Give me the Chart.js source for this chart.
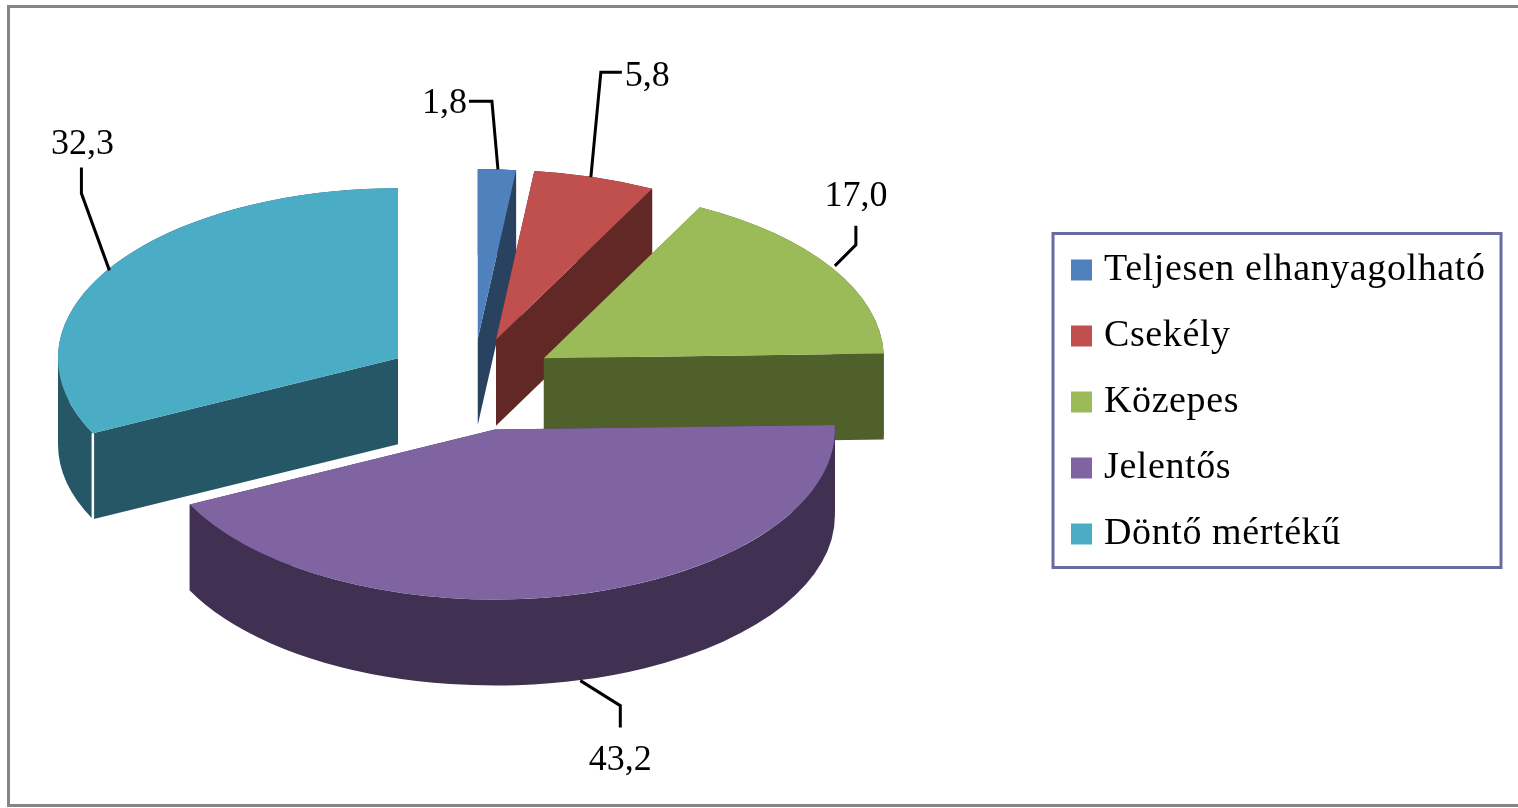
<!DOCTYPE html>
<html lang="hu">
<head>
<meta charset="utf-8">
<style>html,body{margin:0;padding:0;background:#fff;overflow:hidden}canvas{display:block}</style>
<script src="https://cdn.jsdelivr.net/npm/chart.js@4/dist/chart.umd.min.js"></script>
</head>
<body>
<canvas id="c" width="1518" height="808"></canvas>
<script>
const categories = ['Teljesen elhanyagolható', 'Csekély', 'Közepes', 'Jelentős', 'Döntő mértékű'];
const values = [1.8, 5.8, 17.0, 43.2, 32.3];
const valueLabels = ['1,8', '5,8', '17,0', '43,2', '32,3'];
const topColors = ['#4F81BD', '#C0504D', '#9BBB59', '#8064A2', '#4BACC6'];
const wallColors = ['#28425F', '#612826', '#4F602B', '#403152', '#265766'];
const explode = [84, 86, 86, 100, 86];
const nudgeX = [2, 0, 0, 0, 0];
const paintOrder = [4, 0, 1, 2, 3];
const wallDivider = [false, false, false, false, true];
// leader polyline relative to the slice's rim midpoint, then text anchor relative to its last point
const leaders = [
  {pts: [[1, 0], [-5, -68], [-28, -68]], text: [-2, 2, 'right']},
  {pts: [[-4, 0], [6, -105], [27, -105]], text: [3, 4, 'left']},
  {pts: [[3, -2], [24, -23], [24, -42]], text: [0, -29, 'center']},
  {pts: [[4, 0], [44, 25], [44, 47]], text: [0, 33, 'center']},
  {pts: [[0, 2], [-28, -75], [-28, -101]], text: [1, -23, 'center']}
];
const SQUASH = 0.5, DEPTH = 86, RADIUS = 340;
const SERIF = '"Liberation Serif","Times New Roman",serif';

function rimPoint(c, r, a) { return [c.x + Math.cos(a) * r, c.y + Math.sin(a) * r * SQUASH]; }

// break an angular range at the ellipse's left and right extremes so each wall piece is a simple shape
function wallPieces(a0, a1) {
  const cuts = [a0];
  for (let k = Math.ceil(a0 / Math.PI); k * Math.PI < a1; k++) {
    if (k * Math.PI > a0) cuts.push(k * Math.PI);
  }
  cuts.push(a1);
  return cuts.slice(1).map((end, i) => [cuts[i], end]);
}

const pie3d = {
  id: 'pie3d',
  afterLayout(chart) {
    const lg = chart.legend;
    const h = lg.height;
    lg.left = 1050; lg.right = chart.width; lg.top = 223; lg.bottom = 223 + h;
  },
  beforeDraw(chart) {
    const ctx = chart.ctx;
    ctx.save();
    ctx.fillStyle = '#fff';
    ctx.fillRect(0, 0, chart.width, chart.height);
    ctx.strokeStyle = '#868686';
    ctx.lineWidth = 3;
    ctx.strokeRect(8.5, 6.5, chart.width + 20, 799);
    ctx.strokeStyle = '#6A6C9F';
    ctx.strokeRect(1053, 233.5, 448, 334);
    ctx.restore();
    ctx.letterSpacing = '0.6px'; // legend text is slightly tracked in the original
  },
  beforeDatasetDraw(chart, args) {
    const ctx = chart.ctx;
    const arcs = chart.getDatasetMeta(args.index).data;
    const geo = arcs.map((el, i) => {
      const p = el.getProps(['x', 'y', 'startAngle', 'endAngle', 'outerRadius'], true);
      const mid = (p.startAngle + p.endAngle) / 2;
      const off = el.options.offset;
      return {a0: p.startAngle, a1: p.endAngle, mid, r: p.outerRadius,
        x: p.x + Math.cos(mid) * off + nudgeX[i], y: p.y + Math.sin(mid) * off * SQUASH};
    });
    ctx.save();
    ctx.letterSpacing = '0px';
    for (const i of paintOrder) {
      const g = geo[i];
      const ry = g.r * SQUASH;
      const A = rimPoint(g, g.r, g.a0), B = rimPoint(g, g.r, g.a1);
      ctx.fillStyle = wallColors[i];
      // radial walls
      for (const E of [A, B]) {
        ctx.beginPath();
        ctx.moveTo(g.x, g.y); ctx.lineTo(E[0], E[1]);
        ctx.lineTo(E[0], E[1] + DEPTH); ctx.lineTo(g.x, g.y + DEPTH);
        ctx.closePath(); ctx.fill();
      }
      // outer wall
      for (const [s, e] of wallPieces(g.a0, g.a1)) {
        ctx.beginPath();
        ctx.ellipse(g.x, g.y, g.r, ry, 0, s, e);
        ctx.ellipse(g.x, g.y + DEPTH, g.r, ry, 0, e, s, true);
        ctx.closePath(); ctx.fill();
      }
      if (wallDivider[i]) {
        ctx.strokeStyle = '#fff'; ctx.lineWidth = 2.5;
        ctx.beginPath(); ctx.moveTo(A[0], A[1]); ctx.lineTo(A[0], A[1] + DEPTH); ctx.stroke();
      }
      // top face
      ctx.fillStyle = topColors[i];
      ctx.beginPath();
      ctx.moveTo(g.x, g.y);
      ctx.ellipse(g.x, g.y, g.r, ry, 0, g.a0, g.a1);
      ctx.closePath(); ctx.fill();
    }
    // value labels and leader lines
    ctx.strokeStyle = '#000'; ctx.lineWidth = 3; ctx.lineJoin = 'miter';
    ctx.fillStyle = '#000'; ctx.font = '36px ' + SERIF; ctx.textBaseline = 'middle';
    geo.forEach((g, i) => {
      const s = rimPoint(g, g.r, g.mid);
      if (Math.sin(g.mid) > 0) s[1] += DEPTH;
      const L = leaders[i];
      ctx.beginPath();
      L.pts.forEach((b, k) => k ? ctx.lineTo(s[0] + b[0], s[1] + b[1]) : ctx.moveTo(s[0] + b[0], s[1] + b[1]));
      ctx.stroke();
      const last = L.pts[L.pts.length - 1];
      ctx.textAlign = L.text[2];
      ctx.fillText(valueLabels[i], s[0] + last[0] + L.text[0], s[1] + last[1] + L.text[1]);
    });
    ctx.restore();
    return false;
  }
};

new Chart(document.getElementById('c'), {
  type: 'pie',
  data: {
    labels: categories,
    datasets: [{data: values, backgroundColor: topColors, borderWidth: 0, offset: explode, radius: RADIUS}]
  },
  options: {
    responsive: false,
    animation: false,
    events: [],
    layout: {padding: {top: 0, left: 0, right: 576, bottom: 46}},
    plugins: {
      tooltip: {enabled: false},
      legend: {
        position: 'chartArea',
        align: 'start',
        labels: {
          boxWidth: 7, boxHeight: 7,
          padding: 28,
          color: '#000',
          font: {family: SERIF, size: 38},
          generateLabels(chart) {
            return Chart.overrides.doughnut.plugins.legend.labels.generateLabels(chart)
              .map(l => ({...l, strokeStyle: l.fillStyle, lineWidth: 14}));
          }
        }
      }
    }
  },
  plugins: [pie3d]
});
</script>
</body>
</html>
